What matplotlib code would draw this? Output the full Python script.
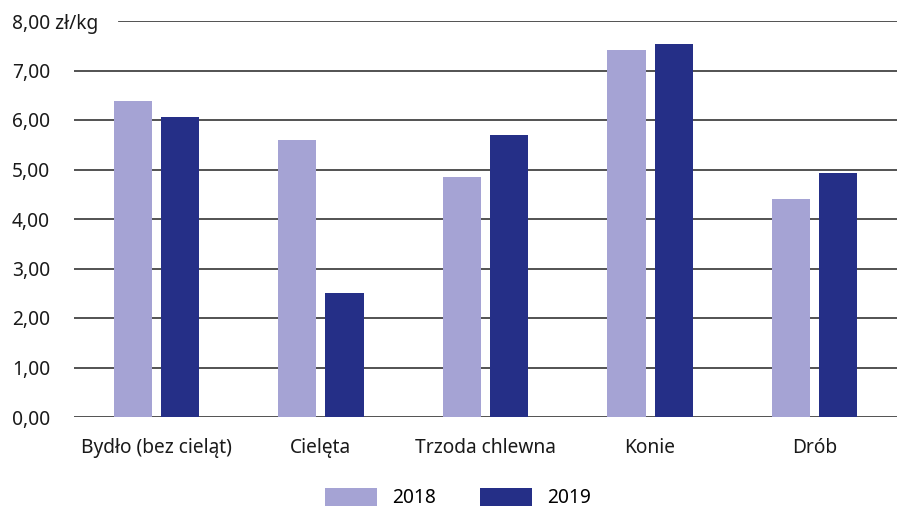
import matplotlib.pyplot as plt
import numpy as np

categories = ['Bydło (bez cieląt)', 'Cielęta', 'Trzoda chlewna', 'Konie', 'Drób']
prices_2018 = [6.38, 5.59, 4.84, 7.41, 4.41]
prices_2019 = [6.07, 2.51, 5.69, 7.53, 4.92]
years = ['2018', '2019']
y_ticks = [0, 1, 2, 3, 4, 5, 6, 7, 8]
y_labels = ['0,00', '1,00', '2,00', '3,00', '4,00', '5,00', '6,00', '7,00', '8,00 zł/kg']

plt.rcParams['font.family'] = ['Noto Sans', 'DejaVu Sans']
fs = 13.8

fig = plt.figure(figsize=(8.97, 5.08), dpi=100)
ax = fig.add_axes([74 / 897, (508 - 417) / 508, 1 - 74 / 897, 396 / 508])

x = np.arange(len(categories))
w = 0.232
ax.bar(x - 0.143, prices_2018, w, color='#a5a3d4', label=years[0], zorder=3)
ax.bar(x + 0.143, prices_2019, w, color='#252f87', label=years[1], zorder=3)

ax.set_xlim(-0.5, len(categories) - 0.5)
ax.set_ylim(0, 8)
ax.set_yticks(y_ticks)
ax.set_yticklabels(y_labels, fontsize=fs, color='#1a1a1a', ha='left')
ax.tick_params(axis='y', length=0, pad=62 * 0.72)
ax.set_xticks(x)
ax.set_xticklabels(categories, fontsize=fs, color='#1a1a1a')
ax.tick_params(axis='x', length=0, pad=15)

# gridlines; the top one starts after the unit label
for t in y_ticks:
    start = 45 / 823 if t == y_ticks[-1] else 0
    ax.axhline(t, xmin=start, xmax=1, color='#444444', linewidth=1.3, zorder=0)
for s in ax.spines.values():
    s.set_visible(False)

fig.legend(loc='center', bbox_to_anchor=(458 / 897, 1 - 498 / 508), ncol=2, frameon=False,
           fontsize=fs, handlelength=2.7, handleheight=1.1, handletextpad=0.8,
           columnspacing=2.3)

fig.savefig('out.png', dpi=100)
